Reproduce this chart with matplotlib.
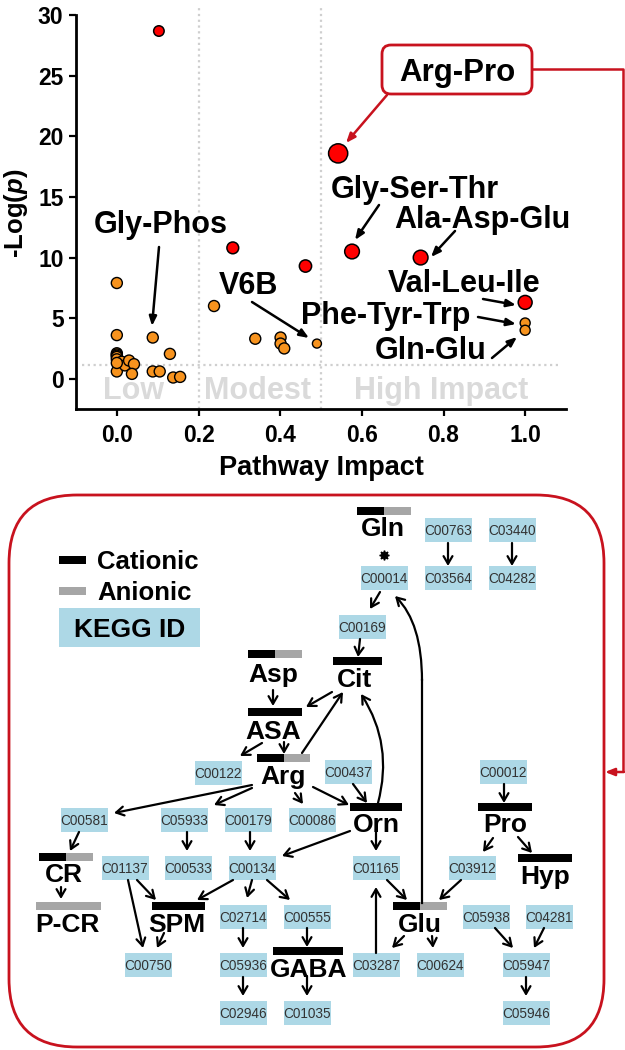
import matplotlib
matplotlib.use('Agg')
import matplotlib.pyplot as plt
from matplotlib.patches import Rectangle, FancyBboxPatch

plt.rcParams['font.family'] = ['Liberation Sans', 'DejaVu Sans']
plt.rcParams['font.weight'] = 'bold'
plt.rcParams['mathtext.fontset'] = 'custom'
plt.rcParams['mathtext.rm'] = 'Liberation Sans:bold'
plt.rcParams['mathtext.it'] = 'Liberation Sans:italic:bold'
plt.rcParams['mathtext.bf'] = 'Liberation Sans:bold'

# ---------------- data: pathway enrichment scatter ----------------
orange_impact = [0.0, 0.0, 0.0, 0.0, 0.0, 0.0, 0.0, 0.0, 0.012, 0.02, 0.03, 0.042,
                 0.037, 0.0, 0.088, 0.13, 0.088, 0.105, 0.138, 0.155, 0.238, 0.339,
                 0.401, 0.401, 0.41, 0.49, 1.0, 1.0]
orange_logp = [7.9, 3.6, 2.1, 2.0, 1.9, 1.8, 1.6, 0.6, 1.4, 1.1, 1.5, 1.2,
               0.4, 1.3, 3.4, 2.05, 0.6, 0.6, 0.1, 0.15, 6.0, 3.3,
               3.4, 2.9, 2.5, 2.9, 4.6, 4.0]
red_impact = [0.103, 0.284, 0.462, 0.542, 0.576, 0.744, 1.0]
red_logp = [28.7, 10.8, 9.3, 18.6, 10.5, 10.0, 6.3]
x_ticks = [0.0, 0.2, 0.4, 0.6, 0.8, 1.0]
y_ticks = [0, 5, 10, 15, 20, 25, 30]
zone_edges = [0.2, 0.5]
zone_names = ['Low', 'Modest', 'High Impact']
p_threshold = 1.1
pathway_labels = ['Gly-Phos', 'V6B', 'Gly-Ser-Thr', 'Ala-Asp-Glu',
                  'Val-Leu-Ile', 'Phe-Tyr-Trp', 'Gln-Glu']
highlight_label = 'Arg-Pro'

# ---------------- data: Arg-Pro metabolic network ----------------
legend_labels = ['Cationic', 'Anionic', 'KEGG ID']
metabolites = ['Gln', 'Cit', 'Asp', 'ASA', 'Arg', 'Orn', 'Pro', 'Hyp', 'Glu',
               'CR', 'P-CR', 'SPM', 'GABA']
metabolite_charge = ['both', 'cation', 'both', 'cation', 'both', 'cation', 'cation',
                     'cation', 'both', 'both', 'anion', 'cation', 'cation']
kegg_ids = ['C00763', 'C03440', 'C00014', 'C03564', 'C04282', 'C00169', 'C00437',
            'C00012', 'C00122', 'C00581', 'C05933', 'C00179', 'C00086', 'C01137',
            'C00533', 'C00134', 'C01165', 'C03912', 'C02714', 'C00555', 'C05938',
            'C04281', 'C00750', 'C05936', 'C03287', 'C00624', 'C05947', 'C02946',
            'C01035', 'C05946']
edges = [('C00763', 'C03564'), ('C03440', 'C04282'), ('C00014', 'C00169'),
         ('C00169', 'Cit'), ('Cit', 'ASA'), ('Arg', 'Cit'), ('Orn', 'Cit'),
         ('Asp', 'ASA'), ('ASA', 'Arg'), ('ASA', 'C00122'), ('Arg', 'C00581'),
         ('Arg', 'C05933'), ('Arg', 'C00086'), ('Arg', 'Orn'), ('C00437', 'Orn'),
         ('Orn', 'C00134'), ('Orn', 'C01165'), ('C00012', 'Pro'), ('Pro', 'C03912'),
         ('Pro', 'Hyp'), ('C01165', 'Glu'), ('C03912', 'Glu'), ('C03287', 'C01165'),
         ('Glu', 'C03287'), ('Glu', 'C00624'), ('C05938', 'C05947'),
         ('C04281', 'C05947'), ('C05947', 'C05946'), ('C00581', 'CR'), ('CR', 'P-CR'),
         ('C05933', 'C00533'), ('C00179', 'C00134'), ('C01137', 'SPM'),
         ('C01137', 'C00750'), ('SPM', 'C00750'), ('C00134', 'SPM'),
         ('C00134', 'C02714'), ('C00134', 'C00555'), ('C02714', 'C05936'),
         ('C00555', 'GABA'), ('C05936', 'C02946'), ('GABA', 'C01035'),
         ('Glu', 'C00014')]

# ---------------- layout (figure pixel coordinates, y downward) ----------------
W, H = 625, 1050
RED = '#c8121e'
ORANGE = '#f7931e'
GRAY = '#a6a6a6'
BLUE = '#add8e6'

kegg_pos = {'C00763': (448, 530), 'C03440': (512, 530), 'C00014': (384, 578),
            'C03564': (448, 578), 'C04282': (512, 578), 'C00169': (362, 627),
            'C00437': (348, 772), 'C00012': (503, 772), 'C00122': (218, 773),
            'C00581': (84, 820), 'C05933': (184, 820), 'C00179': (248, 820),
            'C00086': (312, 820), 'C01137': (125, 868), 'C00533': (188, 868),
            'C00134': (252, 868), 'C01165': (376, 868), 'C03912': (472, 868),
            'C02714': (243, 917), 'C00555': (307, 917), 'C05938': (486, 917),
            'C04281': (549, 917), 'C00750': (148, 965), 'C05936': (243, 965),
            'C03287': (376, 965), 'C00624': (440, 965), 'C05947': (526, 965),
            'C02946': (243, 1013), 'C01035': (307, 1013), 'C05946': (526, 1013)}
met_label_pos = {'Gln': (383, 527), 'Cit': (354, 678), 'Asp': (273, 673),
                 'ASA': (273, 730), 'Arg': (283, 775), 'Orn': (376, 823),
                 'Pro': (505, 823), 'Hyp': (545, 875), 'Glu': (420, 923),
                 'CR': (64, 873), 'P-CR': (67, 923), 'SPM': (177, 923),
                 'GABA': (309, 968)}
met_bar = {'Gln': (357, 411, 511), 'Cit': (333, 382, 661), 'Asp': (248, 302, 654),
           'ASA': (248, 302, 712), 'Arg': (257, 310, 758), 'Orn': (350, 402, 807),
           'Pro': (478, 532, 807), 'Hyp': (518, 572, 858), 'Glu': (393, 447, 906),
           'CR': (39, 93, 857), 'P-CR': (36, 101, 906), 'SPM': (152, 205, 906),
           'GABA': (273, 343, 951)}
edge_geom = {
    ('C00763', 'C03564'): ((448, 543), (448, 566), 0),
    ('C03440', 'C04282'): ((512, 543), (512, 566), 0),
    ('C00014', 'C00169'): ((380, 592), (370, 609), 0),
    ('C00169', 'Cit'): ((360, 639), (358, 657), 0),
    ('Cit', 'ASA'): ((332, 692), (306, 707), 0),
    ('Arg', 'Cit'): ((302, 753), (343, 692), 0),
    ('Orn', 'Cit'): ((378, 803), (361, 694), 0.22),
    ('Asp', 'ASA'): ((273, 690), (273, 706), 0),
    ('ASA', 'Arg'): ((284, 742), (284, 754), 0),
    ('ASA', 'C00122'): ((262, 743), (240, 756), 0),
    ('Arg', 'C00581'): ((252, 785), (114, 813), 0),
    ('Arg', 'C05933'): ((252, 788), (214, 805), 0),
    ('Arg', 'C00086'): ((295, 793), (303, 804), 0),
    ('Arg', 'Orn'): ((313, 787), (349, 805), 0),
    ('C00437', 'Orn'): ((353, 784), (367, 803), 0),
    ('Orn', 'C00134'): ((350, 831), (282, 856), 0),
    ('Orn', 'C01165'): ((376, 829), (376, 851), 0),
    ('C00012', 'Pro'): ((504, 784), (504, 803), 0),
    ('Pro', 'C03912'): ((493, 838), (483, 852), 0),
    ('Pro', 'Hyp'): ((518, 837), (532, 853), 0),
    ('C01165', 'Glu'): ((387, 880), (407, 900), 0),
    ('C03912', 'Glu'): ((461, 880), (439, 900), 0),
    ('C03287', 'C01165'): ((376, 953), (376, 887), 0),
    ('Glu', 'C03287'): ((404, 936), (392, 948), 0),
    ('Glu', 'C00624'): ((432, 936), (433, 948), 0),
    ('C05938', 'C05947'): ((495, 928), (513, 948), 0),
    ('C04281', 'C05947'): ((544, 928), (534, 948), 0),
    ('C05947', 'C05946'): ((526, 977), (526, 996), 0),
    ('C00581', 'CR'): ((79, 832), (70, 851), 0),
    ('CR', 'P-CR'): ((61, 887), (61, 899), 0),
    ('C05933', 'C00533'): ((187, 832), (187, 851), 0),
    ('C00179', 'C00134'): ((250, 832), (250, 851), 0),
    ('C01137', 'SPM'): ((137, 880), (156, 900), 0),
    ('C01137', 'C00750'): ((128, 880), (143, 948), 0),
    ('SPM', 'C00750'): ((164, 933), (157, 948), 0),
    ('C00134', 'SPM'): ((233, 880), (197, 900), 0),
    ('C00134', 'C02714'): ((252, 880), (247, 898), 0),
    ('C00134', 'C00555'): ((267, 880), (290, 900), 0),
    ('C02714', 'C05936'): ((243, 928), (243, 948), 0),
    ('C00555', 'GABA'): ((307, 928), (307, 947), 0),
    ('C05936', 'C02946'): ((243, 977), (243, 996), 0),
    ('GABA', 'C01035'): ((307, 976), (307, 996), 0),
}
# long return path Glu -> C00014: straight run, then curved end
glu_return_line = ((422, 903), (422, 680))
glu_return_curve = ((422, 680.5), (395, 596))
label_pos = {'Gly-Phos': (161, 222), 'V6B': (248, 283), 'Gly-Ser-Thr': (415, 187),
             'Ala-Asp-Glu': (482, 217), 'Val-Leu-Ile': (464, 281),
             'Phe-Tyr-Trp': (386, 313), 'Gln-Glu': (431, 348)}
label_arrow = {'Gly-Phos': ((159, 247), (152, 326)), 'V6B': ((252, 302), (309, 338)),
               'Gly-Ser-Thr': ((379, 205), (355, 240)),
               'Ala-Asp-Glu': ((455, 231), (431, 257)),
               'Val-Leu-Ile': ((483, 299), (516, 305)),
               'Phe-Tyr-Trp': ((478, 317), (516, 324)),
               'Gln-Glu': ((492, 358), (517, 337))}
zone_label_pos = [(134, 388), (258, 388), (441, 388)]

fig = plt.figure(figsize=(W / 100, H / 100), dpi=100)

# ---------------- scatter axes ----------------
ax = fig.add_axes([76 / W, 1 - 409 / H, 490 / W, 401 / H])
ax.set_xlim(-0.1, 1.1)
ax.set_ylim(-2.5, 30.6)
ax.spines['top'].set_visible(False)
ax.spines['right'].set_visible(False)
for s in ('left', 'bottom'):
    ax.spines[s].set_linewidth(2)
ax.spines['left'].set_bounds(-2.5, 30)
ax.set_xticks(x_ticks)
ax.set_xticklabels([f'{v:.1f}' for v in x_ticks])
ax.set_yticks(y_ticks)
ax.tick_params(direction='out', length=5, width=1.6, labelsize=16.5, pad=4)
ax.tick_params(axis='x', pad=6)
for lab in ax.get_xticklabels() + ax.get_yticklabels():
    lab.set_fontweight('bold')
ax.set_xlabel('Pathway Impact', fontsize=19.5, fontweight='bold')
ax.set_ylabel('-Log($\\mathit{p}$)', fontsize=18.5, fontweight='bold')
ax.xaxis.set_label_coords(0.5, -0.115)
ax.yaxis.set_label_coords((30 - 76) / 490, 0.489)

for xe in zone_edges:
    ax.axvline(xe, color='#cfcfcf', lw=1.6, ls=(0, (1, 1.6)), zorder=1)
ax.axhline(p_threshold, xmin=0.012, xmax=0.984, color='#cfcfcf', lw=1.6,
           ls=(0, (1, 1.6)), zorder=1)

orange_sizes = [63] * len(orange_impact)
orange_sizes[25] = 42
orange_sizes[26] = 52
orange_sizes[27] = 52
ax.scatter(orange_impact, orange_logp, s=orange_sizes, c=ORANGE,
           edgecolors='black', linewidths=1.0, zorder=3, clip_on=False)
red_sizes = [57, 72, 78, 190, 112, 112, 100]
ax.scatter(red_impact, red_logp, s=red_sizes, c='#ff0000',
           edgecolors='black', linewidths=1.1, zorder=4, clip_on=False)

# ---------------- overlay in pixel coordinates ----------------
ov = fig.add_axes([0, 0, 1, 1])
ov.set_xlim(0, W)
ov.set_ylim(H, 0)
ov.axis('off')
ov.patch.set_visible(False)


def cap_offset(size):
    return size * 100 / 72 * 0.716 / 2


def ctext(axis, x, y, s, size, weight='bold', color='black', ha='center', **kw):
    axis.text(x, y + cap_offset(size), s, fontsize=size, fontweight=weight,
              color=color, ha=ha, va='baseline', transform=ov.transData, **kw)


for name, (x, y) in zip(zone_names, zone_label_pos):
    ctext(ax, x, y, name, 22, color='#dadada', zorder=0.5)

for name in pathway_labels:
    x, y = label_pos[name]
    ctext(ov, x, y, name, 22)
    (x0, y0), (x1, y1) = label_arrow[name]
    ov.annotate('', xy=(x1, y1), xytext=(x0, y0),
                arrowprops=dict(arrowstyle='-|>,head_length=0.55,head_width=0.22',
                                lw=1.8, color='black', shrinkA=0, shrinkB=0))

# Arg-Pro highlight box and connector
ov.add_patch(FancyBboxPatch((382, 45), 150, 49,
                            boxstyle='round,pad=0,rounding_size=9',
                            fc='white', ec=RED, lw=2.0, zorder=5))
ctext(ov, 457, 70, highlight_label, 22.5, zorder=6)
ov.annotate('', xy=(346, 143), xytext=(387, 95),
            arrowprops=dict(arrowstyle='-|>,head_length=0.55,head_width=0.22',
                            lw=1.8, color=RED, shrinkA=0, shrinkB=0))
ov.plot([532, 623, 623], [69, 69, 772], color=RED, lw=1.8, solid_capstyle='butt')
ov.annotate('', xy=(605, 772), xytext=(623.9, 772),
            arrowprops=dict(arrowstyle='-|>,head_length=0.55,head_width=0.22',
                            lw=1.8, color=RED, shrinkA=0, shrinkB=0))

# network panel
ov.add_patch(FancyBboxPatch((9, 495), 595, 552,
                            boxstyle='round,pad=0,rounding_size=68',
                            fc='none', ec=RED, lw=2.0))

# legend
ov.add_patch(Rectangle((59, 556), 27, 8, color='black', lw=0))
ov.add_patch(Rectangle((59, 587), 27, 8, color=GRAY, lw=0))
ctext(ov, 97, 560, legend_labels[0], 18.5, ha='left')
ctext(ov, 97, 591, legend_labels[1], 18.5, ha='left')
ov.add_patch(Rectangle((59, 608), 141, 39, color=BLUE, lw=0))
ctext(ov, 130, 628, legend_labels[2], 19)

# KEGG boxes
for kid in kegg_ids:
    x, y = kegg_pos[kid]
    ov.add_patch(Rectangle((x - 23.5, y - 12), 47, 24, color=BLUE, lw=0))
    ctext(ov, x, y, kid, 9.8, weight='normal', color='#333333')

# metabolite labels with charge bars
for name, charge in zip(metabolites, metabolite_charge):
    x0, x1, yb = met_bar[name]
    if charge == 'both':
        xm = (x0 + x1) / 2
        ov.add_patch(Rectangle((x0, yb - 4), xm - x0, 8, color='black', lw=0))
        ov.add_patch(Rectangle((xm, yb - 4), x1 - xm, 8, color=GRAY, lw=0))
    else:
        ov.add_patch(Rectangle((x0, yb - 4), x1 - x0, 8,
                               color='black' if charge == 'cation' else GRAY, lw=0))
    lx, ly = met_label_pos[name]
    ctext(ov, lx, ly, name, 19)

# asterisk between Gln and C00014
ov.plot([384], [555], marker=(8, 1, 0), color='black', markersize=7)

# edges
arrow_style = '->,head_length=0.55,head_width=0.32'
for e in edges:
    if e == ('Glu', 'C00014'):
        (lx0, ly0), (lx1, ly1) = glu_return_line
        ov.plot([lx0, lx1], [ly0, ly1], color='black', lw=1.6)
        (cx0, cy0), (cx1, cy1) = glu_return_curve
        ov.annotate('', xy=(cx1, cy1), xytext=(cx0, cy0),
                    arrowprops=dict(arrowstyle=arrow_style, lw=1.6, color='black',
                                    shrinkA=0, shrinkB=0,
                                    connectionstyle='angle3,angleA=90,angleB=-45'))
        continue
    (x0, y0), (x1, y1), rad = edge_geom[e]
    ov.annotate('', xy=(x1, y1), xytext=(x0, y0),
                arrowprops=dict(arrowstyle=arrow_style, lw=1.6, color='black',
                                shrinkA=0, shrinkB=0,
                                connectionstyle=f'arc3,rad={rad}'))

fig.savefig('out.png', dpi=100)
